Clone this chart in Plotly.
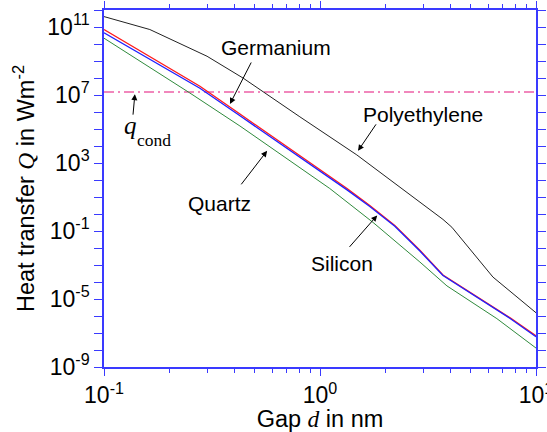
import numpy as np
import plotly.graph_objects as go

# ---------------- data ----------------
gap_poly = [0.1, 0.163, 0.300, 0.441, 0.807, 1.48, 3.71, 4.08, 6.32, 10]
q_poly = [4.1e11, 7.1e10, 1.9e9, 9.8e7, 5.2e5, 3.0e3, 0.48, 0.166, 1.95e-4, 1.55e-6]

gap_ge = [0.1, 0.278, 0.426, 1.334, 1.70, 2.22, 2.90, 3.71, 7.59, 10]
q_ge = [7.1e10, 3.3e7, 7.6e5, 31.6, 3.16, 0.214, 7.4e-3, 2.57e-4, 7.8e-7, 6.9e-8]

gap_si = [0.1, 0.278, 0.426, 1.334, 1.70, 2.22, 2.90, 3.71, 7.59, 10]
q_si = [4.6e10, 2.5e7, 6.0e5, 26.3, 2.75, 0.19, 6.6e-3, 2.4e-4, 7.2e-7, 6.0e-8]

gap_qz = [0.1, 0.250, 0.426, 1.11, 1.76, 2.90, 3.87, 6.59, 10]
q_qz = [2.2e10, 1.3e7, 1.5e5, 31.6, 0.32, 1.5e-3, 5.9e-5, 7.0e-7, 1.3e-8]

q_cond = 1.5e7

y_tick_exp = list(range(-9, 13))
y_label_exp = [-9, -5, -1, 3, 7, 11]
x_tick_exp = [-1, 0, 1]
x_minor = [m * 10.0 ** e for e in (-1, 0) for m in range(2, 10)]

AX = "#3a3aff"
SANS = "Arial, Liberation Sans, sans-serif"
SERIF = "Times New Roman, Liberation Serif, serif"

fig = go.Figure()
fig.add_trace(go.Scatter(x=[0.1, 10], y=[q_cond, q_cond], mode="lines",
                         line=dict(color="#e3107a", width=1.2, dash="10px,4px,2px,4px")))
fig.add_trace(go.Scatter(x=gap_poly, y=q_poly, mode="lines", line=dict(color="#222222", width=1)))
fig.add_trace(go.Scatter(x=gap_qz, y=q_qz, mode="lines", line=dict(color="#2f8a3c", width=1)))
fig.add_trace(go.Scatter(x=gap_ge, y=q_ge, mode="lines", line=dict(color="#ff1a1a", width=1.3)))
fig.add_trace(go.Scatter(x=gap_si, y=q_si, mode="lines", line=dict(color="#2020ff", width=1.3)))

def sup(e):
    return "10<sup>%d</sup>" % e

fig.update_xaxes(type="log", range=[-1, 1], automargin=False, ticklabeloverflow="allow",
                 tickvals=[10.0 ** e for e in x_tick_exp],
                 ticktext=[sup(e) for e in x_tick_exp],
                 ticks="outside", ticklen=7, tickwidth=1.3, tickcolor=AX,
                 minor=dict(tickvals=x_minor, ticks="outside", ticklen=4, tickwidth=1.3, tickcolor=AX),
                 showline=True, linecolor=AX, linewidth=1.6, mirror="ticks",
                 showgrid=False, zeroline=False,
                 tickfont=dict(family=SANS, size=23, color="black"),
                 title=dict(text="Gap <i><span style='font-family:Liberation Serif'>d</span></i> in nm",
                            font=dict(family=SANS, size=23.5, color="black"), standoff=4))
fig.update_yaxes(type="log", range=[-9, 12], automargin=False, ticklabeloverflow="allow",
                 tickvals=[10.0 ** e for e in y_tick_exp],
                 ticktext=[sup(e) if e in y_label_exp else "" for e in y_tick_exp],
                 ticks="outside", ticklen=8, tickwidth=1.3, tickcolor=AX,
                 showline=True, linecolor=AX, linewidth=1.6, mirror="ticks",
                 showgrid=False, zeroline=False,
                 tickfont=dict(family=SANS, size=23, color="black"),
                 title=dict(text="Heat transfer <i><span style='font-family:Liberation Serif'>Q</span></i> in Wm<sup>-2</sup>",
                            font=dict(family=SANS, size=23.5, color="black"), standoff=6))

L = np.log10
labels = [("Germanium", 0.625, 6.3e9), ("Polyethylene", 3.0, 7.6e5),
          ("Quartz", 0.344, 4.2), ("Silicon", 1.265, 1.3e-3)]
for txt, gx, gy in labels:
    fig.add_annotation(x=L(gx), y=L(gy), text=txt, showarrow=False,
                       font=dict(family=SANS, size=21, color="black"))

fig.add_annotation(x=L(0.1325), y=L(1.6e5), text="<i>q</i>", showarrow=False,
                   font=dict(family=SERIF, size=25, color="black"))
fig.add_annotation(x=L(0.170), y=L(2.2e4), text="cond", showarrow=False,
                   font=dict(family=SERIF, size=17.5, color="black"))

arrows = [(0.383, 2.95e6, 22, -43), (1.50, 5.2e3, 19, -28), (0.569, 5.2e3, -27, 35),
          (1.84, 0.83, -29, 33), (0.139, 1.12e7, -2, 22)]
for axx, ayy, ox, oy in arrows:
    fig.add_annotation(x=L(axx), y=L(ayy), text="", showarrow=True, ax=ox, ay=oy,
                       arrowhead=2, arrowsize=1.2, arrowwidth=1, arrowcolor="black")

fig.update_layout(width=547, height=432, showlegend=False,
                  margin=dict(l=104, r=11, t=10, b=65),
                  plot_bgcolor="white", paper_bgcolor="white")
fig.write_html("out.html", config={"displayModeBar": False},
               post_script="document.body.style.margin='0';")
